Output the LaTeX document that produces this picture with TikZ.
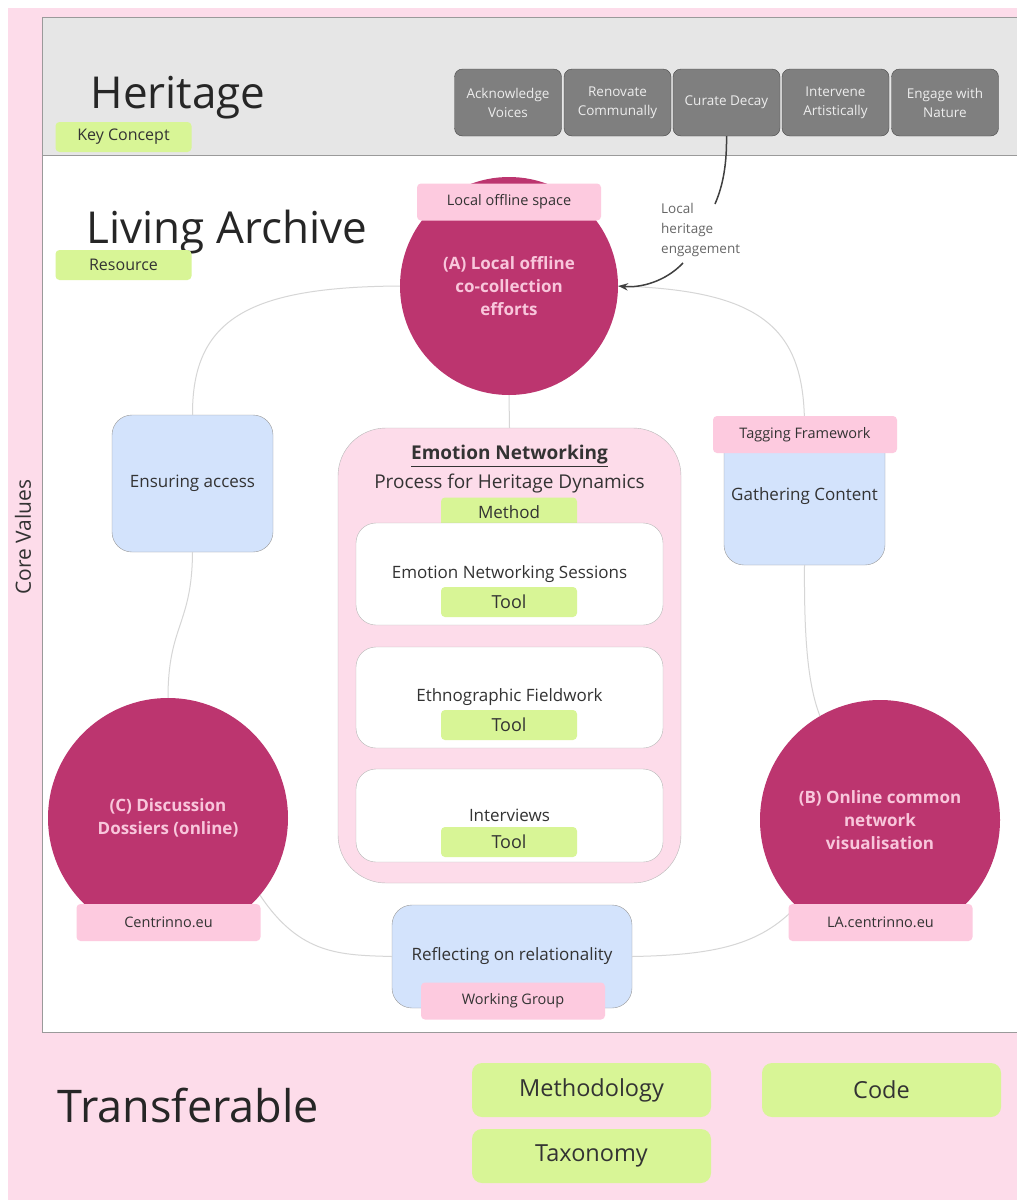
\documentclass[tikz,border=0pt]{standalone}
\usepackage{fontspec}
\setmainfont{Open Sans}
\usetikzlibrary{arrows.meta,positioning}
\definecolor{pinkbg}{HTML}{FDDCEA}
\definecolor{headgray}{HTML}{E6E6E6}
\definecolor{framegray}{HTML}{9A9A9A}
\definecolor{tagGreen}{HTML}{D8F596}
\definecolor{tagPink}{HTML}{FDCADF}
\definecolor{blobRed}{HTML}{BC356F}
\definecolor{blobText}{HTML}{F8C6DB}
\definecolor{stageBlue}{HTML}{D3E3FC}
\definecolor{btnGray}{HTML}{7F7F7F}
\definecolor{btnBorder}{HTML}{4A4A4A}
\definecolor{btnText}{HTML}{EDEDED}
\definecolor{linkGray}{HTML}{D6D6D6}
\definecolor{inkGray}{HTML}{333333}
\newcommand{\fs}[2][1.4]{\fontsize{#2}{\fpeval{#2*#1}}\selectfont}

\begin{document}
\begin{tikzpicture}[x=1pt, y=-1pt, >=Stealth, text=inkGray, font=\fs{14.5},
	greentag/.style={fill=tagGreen, rounded corners=4, minimum width=136, minimum height=30, inner sep=0},
	pinktag/.style={fill=tagPink, rounded corners=4, minimum width=184, minimum height=37, inner sep=0},
	btn/.style={draw=btnBorder, fill=btnGray, rounded corners=8, minimum width=107, minimum height=67,
		inner sep=0, align=center, text=btnText, font={\fs[1.4]{13.5}}},
	blob/.style={circle, fill=blobRed, text=blobText, align=center, inner sep=0, font={\fs[1.35]{17}\bfseries}},
	stage/.style={draw=framegray, fill=stageBlue, rounded corners=20, inner sep=0, font=\fs{17}},
	toolbox/.style={draw=framegray!70, fill=white, rounded corners=20, minimum width=307, inner sep=0, font=\fs{17}},
	link/.style={draw=linkGray, line width=1},
	bigword/.style={anchor=base west, font=\fs{44}, text=black!85},
	bottag/.style={fill=tagGreen, rounded corners=10, minimum width=239, minimum height=54, inner sep=0, font=\fs{23.5}}]
	\useasboundingbox (0,0) rectangle (1017,1200);
	% frames
	\fill[pinkbg] (8,8) rectangle (1017,1200);
	\draw[framegray, fill=headgray] (42,17) rectangle (1017,155);
	\draw[framegray, fill=white] (42,155) rectangle (1017,1032);
	\node[rotate=90, font=\fs{21}] (core) at (23,537) {Core Values};
	% heritage bar
	\node[bigword] (heritage) at (87,108) {Heritage};
	\node[greentag, font=\fs{16}] (keyc) at (123.5,137) {Key Concept};
	\node[btn] (voices) at (508,102.5) {Acknowledge\\Voices};
	\node[btn] (renov) at (617.5,102.5) {Renovate\\Communally};
	\node[btn] (curate) at (726.5,102.5) {Curate Decay};
	\node[btn] (interv) at (835.5,102.5) {Intervene\\Artistically};
	\node[btn] (nature) at (945,102.5) {Engage with\\Nature};
	% living archive
	\node[bigword] (living) at (83,243) {Living Archive};
	\node[greentag, font=\fs{16}] (res) at (123.5,265) {Resource};
	% stages
	\node[blob, minimum size=218] (A) at (509,286) {(A) Local offline\\co-collection\\efforts};
	\node[blob, minimum size=240] (C) at (168,818) {(C) Discussion\\Dossiers (online)};
	\node[blob, minimum size=240] (B) at (880,820) {(B) Online common\\network\\visualisation};
	\node[stage, minimum width=161, minimum height=137] (access) at (192.5,483.5) {Ensuring access};
	\node[stage, minimum width=161, minimum height=137] (gather) at (804.5,496.5) {Gathering Content};
	\node[stage, minimum width=240, minimum height=103] (reflect) at (512,956.5) {Reflecting on relationality};
	% connectors
	\draw[link] (A.west) .. controls (250,287) and (192,318) .. (access.north);
	\draw[link] (A.east) .. controls (765,290) and (805,330) .. (gather.north);
	\draw[link] (access.south) .. controls (192,625) and (168,625) .. (C.north);
	\draw[link] (gather.south) .. controls (804,640) and (808,685) .. (B.120);
	\draw[link] (C.-40) .. controls (300,955) and (340,955) .. (reflect.west);
	\draw[link] (reflect.east) .. controls (715,955) and (760,945) .. (B.-134);
	% method
	\node[draw=framegray!70, fill=pinkbg, rounded corners=48, minimum width=343, minimum height=455] (method) at (509.5,655.5) {};
	\draw[link] (A.south) -- (method.north);
	\node[font=\fs{19}\bfseries] (entitle) at (509.5,456) {\underline{Emotion Networking}};
	\node[font=\fs{19}] (ensub) at (509.5,484) {Process for Heritage Dynamics};
	\node[greentag, font=\fs{17}] (meth) at (509,512.5) {Method};
	\node[toolbox, minimum height=102] (sessions) at (509.5,574) {Emotion Networking Sessions};
	\node[toolbox, minimum height=101] (field) at (509.5,697.5) {Ethnographic Fieldwork};
	\node[toolbox, minimum height=93] (interviews) at (509.5,815.5) {Interviews};
	\node[greentag, font=\fs{18}] (tool1) at (509,602) {Tool};
	\node[greentag, font=\fs{18}] (tool2) at (509,725) {Tool};
	\node[greentag, font=\fs{18}] (tool3) at (509,842) {Tool};
	% tags on stages
	\node[pinktag] (offline) at (509,202) {Local offline space};
	\node[pinktag] (tagging) at (805,434.5) {Tagging Framework};
	\node[pinktag] (centr) at (168.5,922.5) {Centrinno.eu};
	\node[pinktag] (lacentr) at (880.5,922.5) {LA.centrinno.eu};
	\node[pinktag] (wgroup) at (513,1001) {Working Group};
	% engagement arrow
	\node[align=left, anchor=north west, inner sep=0, text=black!60, font={\fs[1.48]{13.5}}] (engage) at (661,203) {Local\\heritage\\engagement};
	\coordinate (engTop) at (715,204);
	\coordinate (engBot) at (683,263);
	\draw[black!75, line width=1.5] (curate.south) .. controls (727,170) and (721,190) .. (engTop);
	\draw[black!75, line width=1.5, ->] (engBot) .. controls (665,282) and (640,288) .. (A.east);
	% transferable
	\node[bigword, font=\fs{45}] (transf) at (54,1122) {Transferable};
	\node[bottag] (methodo) at (591.5,1090) {Methodology};
	\node[bottag] (code) at (881.5,1090) {Code};
	\node[bottag] (taxo) at (591.5,1156) {Taxonomy};
\end{tikzpicture}
\end{document}
